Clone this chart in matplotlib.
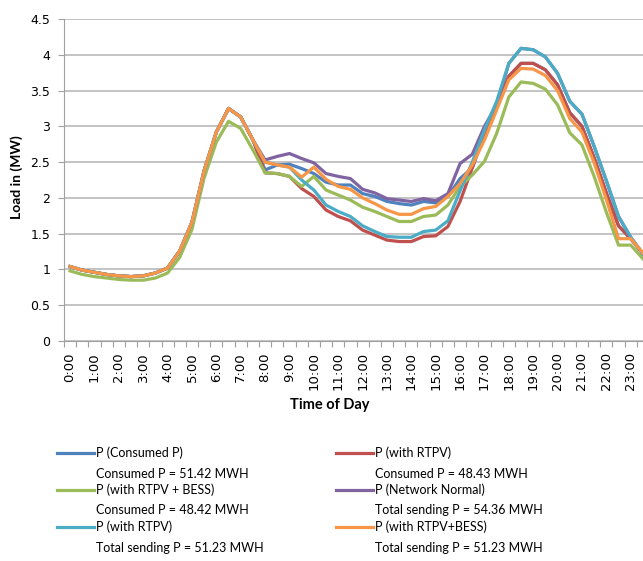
import matplotlib
matplotlib.use("Agg")
import matplotlib.pyplot as plt
from matplotlib.lines import Line2D
import numpy as np

plt.rcParams['font.family'] = ['Lato', 'DejaVu Sans']
plt.rcParams['font.size'] = 9

# ---------- data (half-hourly, 0:00 .. 23:30) ----------
hour_labels = ["%d:00" % h for h in range(24)]

p_consumed = [1.04, 0.99, 0.96, 0.93, 0.91, 0.90, 0.91, 0.95, 1.02, 1.26, 1.66, 2.38,
              2.92, 3.25, 3.13, 2.81, 2.39, 2.46, 2.47, 2.41, 2.34, 2.22, 2.18, 2.18,
              2.06, 2.02, 1.95, 1.92, 1.90, 1.95, 1.93, 2.02, 2.27, 2.42, 2.90, 3.27,
              3.70, 3.88, 3.88, 3.79, 3.58, 3.19, 3.00, 2.56, 2.07, 1.61, 1.43, 1.22]
p_rtpv = [1.04, 0.99, 0.96, 0.93, 0.91, 0.90, 0.91, 0.95, 1.02, 1.26, 1.66, 2.38,
          2.92, 3.25, 3.13, 2.81, 2.35, 2.34, 2.30, 2.13, 2.02, 1.83, 1.74, 1.68,
          1.55, 1.48, 1.41, 1.39, 1.39, 1.46, 1.47, 1.60, 1.95, 2.42, 2.90, 3.27,
          3.70, 3.88, 3.88, 3.79, 3.58, 3.19, 3.00, 2.56, 2.07, 1.61, 1.43, 1.22]
p_rtpv_bess = [0.98, 0.93, 0.90, 0.88, 0.86, 0.85, 0.85, 0.88, 0.95, 1.17, 1.56, 2.28,
               2.78, 3.07, 2.97, 2.67, 2.35, 2.34, 2.30, 2.16, 2.30, 2.11, 2.04, 1.97,
               1.87, 1.81, 1.74, 1.67, 1.67, 1.74, 1.76, 1.90, 2.16, 2.32, 2.51, 2.90,
               3.41, 3.62, 3.60, 3.52, 3.30, 2.91, 2.74, 2.30, 1.80, 1.34, 1.34, 1.15]
p_network = [1.04, 0.99, 0.96, 0.93, 0.91, 0.90, 0.91, 0.95, 1.02, 1.26, 1.66, 2.38,
             2.92, 3.25, 3.13, 2.81, 2.53, 2.58, 2.62, 2.55, 2.49, 2.34, 2.30, 2.27,
             2.12, 2.07, 1.99, 1.97, 1.95, 1.99, 1.96, 2.06, 2.48, 2.61, 3.00, 3.30,
             3.88, 4.09, 4.07, 3.97, 3.74, 3.35, 3.17, 2.72, 2.24, 1.74, 1.45, 1.22]
s_rtpv = [1.04, 0.99, 0.96, 0.93, 0.91, 0.90, 0.91, 0.95, 1.02, 1.26, 1.66, 2.38,
          2.92, 3.25, 3.13, 2.81, 2.50, 2.46, 2.43, 2.25, 2.11, 1.90, 1.81, 1.74,
          1.61, 1.53, 1.46, 1.45, 1.45, 1.53, 1.55, 1.68, 2.10, 2.50, 2.95, 3.35,
          3.88, 4.09, 4.07, 3.97, 3.74, 3.35, 3.17, 2.72, 2.24, 1.74, 1.45, 1.22]
s_rtpv_bess = [1.04, 0.99, 0.96, 0.93, 0.91, 0.90, 0.91, 0.95, 1.02, 1.26, 1.66, 2.38,
               2.92, 3.25, 3.13, 2.81, 2.50, 2.46, 2.43, 2.29, 2.43, 2.26, 2.16, 2.12,
               2.00, 1.92, 1.83, 1.77, 1.77, 1.85, 1.88, 2.02, 2.20, 2.46, 2.81, 3.23,
               3.65, 3.81, 3.80, 3.71, 3.50, 3.11, 2.92, 2.49, 1.98, 1.43, 1.43, 1.23]

series = [
    (p_consumed, "#4F81BD", "P (Consumed P)", "Consumed P = 51.42 MWH"),
    (p_rtpv, "#C0504D", "P (with RTPV)", "Consumed P = 48.43 MWH"),
    (p_rtpv_bess, "#9BBB59", "P (with RTPV + BESS)", "Consumed P = 48.42 MWH"),
    (p_network, "#8064A2", "P (Network Normal)", "Total sending P = 54.36 MWH"),
    (s_rtpv, "#4BACC6", "P (with RTPV)", "Total sending P = 51.23 MWH"),
    (s_rtpv_bess, "#F79646", "P (with RTPV+BESS)", "Total sending P = 51.23 MWH"),
]

W, H = 643, 561
fig = plt.figure(figsize=(W / 100, H / 100), dpi=100)
ax = fig.add_axes([64 / W, 1 - 341 / H, 585 / W, 322 / H])

x = np.arange(len(p_consumed))
for vals, col, lab, sub in series:
    ax.plot(x, vals, color=col, lw=2.3, label=lab)

ax.set_xlim(-0.5, len(x) - 0.5)
ax.set_ylim(0, 4.5)
ax.set_yticks(np.arange(0, 4.51, 0.5))
ax.set_yticklabels(["0", "0.5", "1", "1.5", "2", "2.5", "3", "3.5", "4", "4.5"],
                   family="DejaVu Sans", fontsize=9)
ax.yaxis.grid(True, color="#b3b3b3", lw=1.1)
ax.set_axisbelow(True)

# tick marks between categories, a label every hour
ax.set_xticks(np.arange(-0.5, len(x), 1))
ax.set_xticklabels([])
ax.set_xticks(np.arange(0, len(x), 2), minor=True)
ax.set_xticklabels(hour_labels, minor=True, rotation=90, family="DejaVu Sans",
                   fontsize=9.5)
ax.tick_params(axis='x', which='major', length=4, color="#a0a0a0")
ax.tick_params(axis='x', which='minor', length=0, pad=8)
ax.tick_params(axis='y', length=4, color="#a0a0a0", pad=6)

for s in ["top", "right"]:
    ax.spines[s].set_visible(False)
for s in ["left", "bottom"]:
    ax.spines[s].set_color("#a0a0a0")

fig.text(17 / W, 1 - 177 / H, "Load in (MW)", fontweight="bold", rotation=90,
         ha="center", va="center", fontsize=10)
fig.text(330 / W, 1 - 405 / H, "Time of Day", fontweight="bold",
         ha="center", va="center", fontsize=10.5)

# ---------- legend (Excel style: handle beside first line) ----------
col_x = [57, 336]
row_y = [453, 490, 527]
for k, (vals, col, lab, sub) in enumerate(series):
    cx = col_x[k % 2]
    ry = row_y[k // 2]
    fig.add_artist(Line2D([cx / W, (cx + 37) / W], [1 - ry / H, 1 - ry / H],
                          transform=fig.transFigure, color=col, lw=2.3))
    fig.text((cx + 39) / W, 1 - ry / H, lab, va="center", ha="left", fontsize=9)
    fig.text((cx + 39) / W, 1 - (ry + 20.5) / H, sub, va="center", ha="left",
             fontsize=9)

fig.savefig("out.png", dpi=100)
